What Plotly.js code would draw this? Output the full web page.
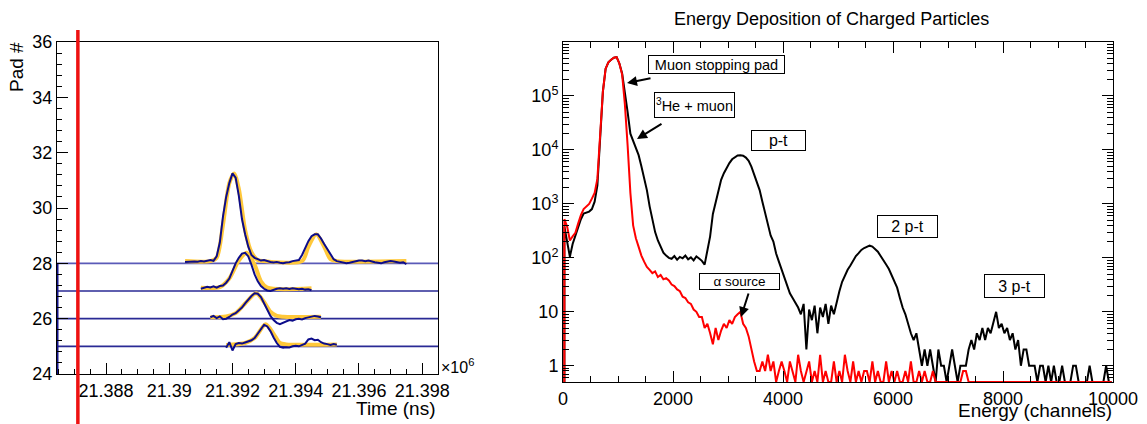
<!DOCTYPE html>
<html><head><meta charset="utf-8">
<script src="https://cdn.plot.ly/plotly-3.0.1.min.js"></script>
<style>html,body{margin:0;padding:0;background:#fff;}#chart{width:1147px;height:424px;}</style>
</head><body><div id="chart"></div>
<script>
// ---------- Left panel data (time in units of 10^6 ns) ----------
const padNumbers = [25, 26, 27, 28];
const triggerTime = 21.38711;
const sampleStep = 0.0001;
const timeTickVals = [21.388, 21.39, 21.392, 21.394, 21.396, 21.398];
const timeTickText = ["21.388", "21.39", "21.392", "21.394", "21.396", "21.398"];

const wave28Start = 21.3905;
const wave28 = [28.05,28.06,28.05,28.07,28.06,28.08,28.07,28.10,28.12,28.09,
  28.25,28.75,29.7,30.4,30.9,31.25,31.1,30.45,29.6,29.05,
  28.6,28.3,28.2,28.15,28.1,28.12,28.08,28.05,28.03,28.05,
  28.02,28.0,28.03,28.04,28.08,28.1,28.12,28.3,28.55,28.8,
  28.98,29.05,29.05,28.9,28.7,28.5,28.3,28.15,28.08,28.05,
  28.02,28.0,28.02,28.05,28.06,28.1,28.1,28.08,28.1,28.06,
  28.04,28.02,28.0,28.04,28.06,28.08,28.07,28.05,28.02,28.04,27.97];
const wave27Start = 21.3910;
const wave27 = [27.08,27.12,27.15,27.13,27.17,27.12,27.18,27.2,27.3,27.45,
  27.75,28.0,28.2,28.35,28.38,28.25,27.95,27.6,27.35,27.18,
  27.08,27.02,27.0,27.05,27.08,27.1,27.08,27.1,27.07,27.1,
  27.08,27.06,27.08,27.05,27.06,27.03];
const wave26Start = 21.3913;
const wave26 = [26.05,26.1,26.02,26.08,25.98,26.0,26.06,26.15,26.2,26.3,
  26.4,26.55,26.7,26.82,26.92,26.9,26.78,26.55,26.3,26.1,
  25.95,25.85,25.8,25.86,25.9,25.95,25.93,25.98,26.0,25.97,
  26.02,26.05,26.08,26.1,26.08,26.05];
const wave25Start = 21.3918;
const wave25 = [24.95,25.15,24.85,25.08,25.12,25.1,25.14,25.18,25.22,25.3,
  25.45,25.62,25.78,25.72,25.55,25.32,25.12,24.98,24.95,24.97,
  24.96,25.0,25.02,25.0,25.05,25.1,25.25,25.28,25.22,25.24,
  25.15,25.1,25.08,25.05,25.08,25.06];

const fit28T = [21.3905,21.3913,21.3915,21.3917,21.3919,21.39205,21.3922,21.3924,21.3926,21.3928,21.3930,21.3942,21.3944,21.39465,21.3949,21.3951,21.3953,21.3975];
const fit28Y = [28.08,28.08,28.2,29.4,30.9,31.25,30.7,29.2,28.4,28.12,28.08,28.08,28.6,29.05,28.6,28.15,28.08,28.08];
const fit27T = [21.3910,21.3916,21.3919,21.3922,21.39245,21.3927,21.3929,21.3931,21.3945];
const fit27Y = [27.12,27.14,27.45,28.1,28.38,27.95,27.35,27.12,27.1];
const fit26T = [21.3913,21.3918,21.3921,21.3924,21.39275,21.3930,21.3932,21.3934,21.3936,21.3948];
const fit26Y = [26.05,26.08,26.2,26.55,26.92,26.6,26.25,26.1,26.07,26.07];
const fit25T = [21.3918,21.3924,21.3927,21.39305,21.3933,21.3935,21.3937,21.3953];
const fit25Y = [25.05,25.12,25.3,25.8,25.45,25.12,25.07,25.07];

// ---------- Right panel data (energy histograms) ----------
const energyBinWidth = 50;
const blackCounts = [
  380,200,105,180,260,370,520,660,700,720,
  800,1100,2200,15000,120000,320000,420000,470000,510000,525000,
  400000,260000,100000,50000,20000,15000,11500,8000,5000,3000,
  1800,900,500,300,210,160,125,110,100,96,
  108,92,104,98,110,94,102,90,106,97,
  88,75,130,250,650,1100,1900,2800,3700,4700,
  5700,6700,7400,7900,8000,7800,7200,6300,4900,3600,
  2500,1800,1100,650,420,260,200,120,85,60,
  45,32,22,18,15,12,9,14,2,11,
  7,13,4,12,8,14,6,13,9,15,
  24,36,48,60,72,90,108,122,140,152,
  160,168,162,145,130,108,92,75,62,48,
  36,28,18,12,9,6,4,3,4,2,
  1,2,1,2,1,0,2,1,1,0,
  1,2,1,0,1,1,1,2,3,2,
  4,3,5,3,5,4,6,10,5,6,
  4,5,3,4,2,3,1,2,2,1,
  1,1,0,1,1,0,1,0,1,0,
  0,1,0,0,0,1,1,0,0,0,
  0,1,0,0,0,0,0,1,0,0];
const redCounts = [
  520,380,210,250,290,430,620,800,900,1000,
  1250,1600,2900,15000,120000,320000,420000,470000,510000,525000,
  400000,250000,70000,12000,1600,400,230,160,110,85,
  68,60,52,56,44,48,40,42,38,32,
  30,26,24,19,18,15,14,11,10,8,
  8,5,6,4,2.5,5,3,4.5,6,5,
  7,6,8,9,10,6,5,3.5,2,1.2,
  0.8,0.8,1.2,0.8,1.6,0.8,1.2,0,0.8,1.2,
  0.8,0,1.2,0.8,0,1.6,0.8,0,0.8,1.2,
  0,0.8,0,1.6,0,0.8,0,0,1.2,0,
  0.8,0,1.6,0.8,0,1.2,0,0.8,0,0.8,
  0.8,0,1.2,0,0.8,0,0,1.2,0,0.8,
  0,0.8,0,0,0.8,0,1.2,0,0,0.8,
  0,0.8,0,0,0.8,0,0,0,0,0,
  0,0,0,0,0,0.8,0.8,0,0,0,
  0,0,0,0,0,0,0,0,0,0,
  0,0,0,0,0,0,0,0,0,0,
  0,0,0,0,0,0,0,0,0,0,
  0,0,0,0,0,0,0,0,0,0,
  0,0,0,0,0,0,0,0,0,0];
const energyTickVals = [0, 2000, 4000, 6000, 8000, 10000];
const energyTickText = ["0", "2000", "4000", "6000", "8000", "10000"];
const countTickVals = [1, 10, 100, 1000, 10000, 100000];
const countTickText = ["1", "10", "10<sup>2</sup>", "10<sup>3</sup>", "10<sup>4</sup>", "10<sup>5</sup>"];

const labelBoxes = [
  {text: "Muon stopping pad", cx: 716.5, cy: 64.5, w: 137, h: 19, size: 14.5},
  {text: "<sup>3</sup>He + muon", cx: 694.5, cy: 105, w: 81, h: 26, size: 14.5},
  {text: "p-t", cx: 778.5, cy: 140.5, w: 55, h: 21, size: 16},
  {text: "\u03b1 source", cx: 739.5, cy: 281.5, w: 81, h: 17, size: 13.5},
  {text: "2 p-t", cx: 907.5, cy: 226.5, w: 61, h: 23, size: 16},
  {text: "3 p-t", cx: 1014.5, cy: 286, w: 61, h: 24, size: 16}
];
const labelArrows = [
  {hx: 627, hy: 83, tx: 652, ty: 78},
  {hx: 637, hy: 139, tx: 663, ty: 123},
  {hx: 741, hy: 317, tx: 749, ty: 292}
];

// ---------- build ----------
const W = 1147, H = 424;
const px = v => v / W, py = v => 1 - v / H;
const FONT = "Liberation Sans, Arial, Helvetica, sans-serif";
const xLeftRange = [21.38645, 21.3985];
const yLogFloor = Math.pow(10, -0.301);

function seq(start, n) { const a = []; for (let i = 0; i < n; i++) a.push(+(start + i * sampleStep).toFixed(5)); return a; }

const traces = [];
padNumbers.forEach(p => traces.push({x: xLeftRange, y: [p, p], xaxis: 'x', yaxis: 'y', mode: 'lines',
  line: {color: p === 28 ? '#5a5ab8' : '#2a2a95', width: 1.6}, hoverinfo: 'skip'}));
traces.push({x: [xLeftRange[0], xLeftRange[0]], y: [24, 28], xaxis: 'x', yaxis: 'y', mode: 'lines', line: {color: '#14148c', width: 3}});
[[fit28T, fit28Y], [fit27T, fit27Y], [fit26T, fit26Y], [fit25T, fit25Y]].forEach(f => traces.push({
  x: f[0], y: f[1], xaxis: 'x', yaxis: 'y', mode: 'lines', line: {color: '#ffc83a', width: 4, shape: 'spline', smoothing: 0.8}}));
[[wave28Start, wave28], [wave27Start, wave27], [wave26Start, wave26], [wave25Start, wave25]].forEach(w => traces.push({
  x: seq(w[0], w[1].length), y: w[1], xaxis: 'x', yaxis: 'y', mode: 'lines', line: {color: '#0c0c8a', width: 2}}));

function histTrace(counts, color) {
  const x = [0], y = [yLogFloor];
  counts.forEach((c, i) => { x.push((i + 0.5) * energyBinWidth); y.push(c > 0 ? c : yLogFloor); });
  x[0] = 0.5 * energyBinWidth;
  return {x: x, y: y, xaxis: 'x2', yaxis: 'y2', mode: 'lines', line: {color: color, width: 2}};
}
traces.push(histTrace(blackCounts, '#000000'));
traces.push(histTrace(redCounts, '#ff0000'));

const txt = (text, x, y, xanchor, size, extra) => Object.assign({text: text, x: px(x), y: py(y), xref: 'paper', yref: 'paper',
  xanchor: xanchor, yanchor: 'middle', showarrow: false, font: {size: size, family: FONT, color: '#000'}}, extra || {});
const annotations = [
  txt("Energy Deposition of Charged Particles", 831, 19, 'center', 18),
  txt("Energy (channels)", 1114, 410, 'right', 19),
  txt("Time (ns)", 438, 408, 'right', 19),
  txt("Pad #", 17, 67, 'center', 19, {textangle: -90}),
  txt("\u00d710<sup>6</sup>", 439, 366, 'left', 16)
];
labelBoxes.forEach(b => annotations.push({text: b.text, x: px(b.cx), y: py(b.cy), xref: 'paper', yref: 'paper', xanchor: 'center', yanchor: 'middle',
  width: b.w - 2, height: b.h - 2, borderpad: 0, bordercolor: '#000', borderwidth: 1, bgcolor: '#fff', showarrow: false,
  font: {size: b.size, family: FONT, color: '#000'}}));
labelArrows.forEach(a => annotations.push({text: '', x: px(a.hx), y: py(a.hy), xref: 'paper', yref: 'paper', ax: a.tx - a.hx, ay: a.ty - a.hy,
  showarrow: true, arrowhead: 2, arrowsize: 1, arrowwidth: 2, arrowcolor: '#000'}));

const tickFont = {size: 18, family: FONT, color: '#000'};
const layout = {
  width: W, height: H, margin: {l: 0, r: 0, t: 0, b: 0, pad: 0},
  paper_bgcolor: '#fff', plot_bgcolor: '#fff', showlegend: false,
  xaxis: {domain: [px(57), px(438)], range: xLeftRange, tickmode: 'array', tickvals: timeTickVals, ticktext: timeTickText,
    ticks: 'inside', ticklen: 11, tickcolor: '#000', showline: true, linecolor: '#000', linewidth: 1, mirror: true,
    showgrid: false, zeroline: false, tickfont: tickFont,
    minor: {ticks: 'inside', ticklen: 5, tickcolor: '#000', tick0: 21.388, dtick: 0.0005, showgrid: false}},
  yaxis: {domain: [py(374), py(42)], range: [24, 36], tickmode: 'linear', tick0: 24, dtick: 2,
    ticks: 'inside', ticklen: 11, tickcolor: '#000', showline: true, linecolor: '#000', linewidth: 1, mirror: true,
    showgrid: false, zeroline: false, tickfont: tickFont,
    minor: {ticks: 'inside', ticklen: 5, tickcolor: '#000', tick0: 24, dtick: 0.4, showgrid: false}},
  xaxis2: {domain: [px(563), px(1113)], range: [0, 10000], anchor: 'y2', tickmode: 'array', tickvals: energyTickVals, ticktext: energyTickText,
    ticks: 'inside', ticklen: 11, tickcolor: '#000', showline: true, linecolor: '#000', linewidth: 1, mirror: 'ticks',
    showgrid: false, zeroline: false, tickfont: tickFont,
    minor: {ticks: 'inside', ticklen: 6, tickcolor: '#000', tick0: 0, dtick: 500, showgrid: false}},
  yaxis2: {domain: [py(382), py(42)], type: 'log', range: [-0.301, 6], anchor: 'x2', tickmode: 'array', tickvals: countTickVals, ticktext: countTickText,
    ticks: 'inside', ticklen: 11, tickcolor: '#000', showline: true, linecolor: '#000', linewidth: 1, mirror: 'ticks',
    showgrid: false, zeroline: false, tickfont: tickFont,
    minor: {ticks: 'inside', ticklen: 6, tickcolor: '#000', dtick: 'D1', showgrid: false}},
  annotations: annotations,
  shapes: [{type: 'line', xref: 'x', yref: 'paper', x0: triggerTime, x1: triggerTime, y0: -0.02, y1: py(30),
    line: {color: '#ee1111', width: 3.5}}]
};
Plotly.newPlot('chart', traces, layout, {staticPlot: true, displayModeBar: false});
</script></body></html>
